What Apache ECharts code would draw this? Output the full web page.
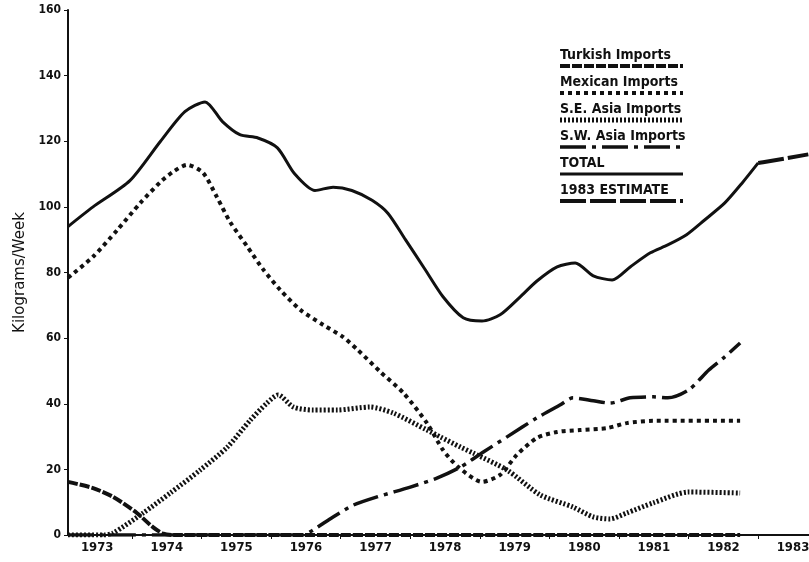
<!DOCTYPE html>
<html>
<head>
<meta charset="utf-8">
<script src="https://cdn.jsdelivr.net/npm/echarts@6/dist/echarts.min.js"></script>
<style>html,body{margin:0;padding:0;background:#fff}#c{width:809px;height:562px}</style>
</head>
<body>
<div id="c"></div>
<script>
// Year labels (centered mid-year) and tick positions (year boundaries)
const yearLabels = [1973,1974,1975,1976,1977,1978,1979,1980,1981,1982,1983];
const yTicks = [0,20,40,60,80,100,120,140,160];

// Series as [year, kilograms/week]
const turkish = [[1973.08,16.2],[1973.44,14.3],[1973.73,11.6],[1974.07,6.7],[1974.30,2.4],[1974.45,0.4],[1974.6,0],[1982.74,0]];
const mexican = [[1973.08,78.4],[1973.44,84.8],[1973.79,93],[1974.12,101.2],[1974.41,107.6],[1974.59,110.7],[1974.79,112.8],[1975.02,110.4],[1975.22,103],[1975.41,95.4],[1975.66,87.8],[1975.89,80.8],[1976.13,74.7],[1976.42,68.6],[1976.75,64],[1977.03,60.4],[1977.24,56.5],[1977.57,49.7],[1977.90,43.3],[1978.24,34.1],[1978.47,25.9],[1978.69,20.7],[1979.03,16.2],[1979.29,18.3],[1979.53,24.4],[1979.82,29.6],[1980.11,31.4],[1980.44,32],[1980.83,32.6],[1981.11,34.1],[1981.49,34.8],[1982.74,34.8]];
const seAsia = [[1973.08,0],[1973.60,0],[1973.73,0.6],[1974.16,6.7],[1974.55,12.8],[1974.98,19.8],[1975.37,26.8],[1975.70,35],[1975.94,40.2],[1976.10,42.7],[1976.32,39],[1976.60,38.1],[1976.95,38.1],[1977.42,39],[1977.75,37.2],[1978.24,32],[1978.43,29.9],[1978.72,26.8],[1978.90,25],[1979.39,19.8],[1979.87,12.2],[1980.34,8.5],[1980.63,5.5],[1980.87,4.9],[1981.11,6.7],[1981.49,9.8],[1982.0,13.1],[1982.74,12.8]];
const swAsia = [[1973.08,0],[1976.46,0],[1976.60,1.5],[1976.89,5.5],[1977.18,9.1],[1977.52,11.6],[1978.0,14.6],[1978.39,17.4],[1978.72,20.7],[1979.05,25.3],[1979.39,29.9],[1979.82,35.7],[1980.15,39.6],[1980.34,41.8],[1980.63,40.9],[1980.87,40.2],[1981.16,41.8],[1981.49,42.1],[1981.70,41.8],[1982.0,44.2],[1982.29,50.3],[1982.52,54.3],[1982.74,58.5]];
const total = [[1973.08,94],[1973.44,100],[1973.97,108],[1974.41,120],[1974.76,129],[1975.05,132],[1975.30,126],[1975.55,122],[1975.81,121],[1976.09,118],[1976.34,110],[1976.63,105],[1976.89,106],[1977.16,105],[1977.45,102],[1977.68,98],[1977.93,90],[1978.21,81],[1978.47,72.6],[1978.76,66.2],[1979.03,65.2],[1979.29,67.1],[1979.58,72.6],[1979.82,77.4],[1980.11,81.7],[1980.37,82.9],[1980.63,79],[1980.90,77.7],[1981.16,81.7],[1981.45,86],[1981.70,88.4],[1981.97,91.5],[1982.23,96],[1982.52,101.2],[1982.77,107.3],[1983.0,113.4]];
const estimate = [[1983.0,113.4],[1983.07,113.6],[1983.72,116]];

const legendItems = [
  {name:'Turkish Imports', w:4, dash:[10,2]},
  {name:'Mexican Imports', w:4, dash:[4,4]},
  {name:'S.E. Asia Imports', w:5, dash:[2,2]},
  {name:'S.W. Asia Imports', w:3.5, dash:[26,6,4,6]},
  {name:'TOTAL', w:3, dash:null},
  {name:'1983 ESTIMATE', w:4, dash:[26,4]}
];

const chart = echarts.init(document.getElementById('c'), null, {renderer:'canvas'});
const INK = '#111';
const labelFont = 'DejaVu Sans Condensed';

function line(name, data, w, dash){
  return {name, type:'line', data, showSymbol:false, smooth:0.25, z:3,
    lineStyle:{color:INK, width:w, type: dash || 'solid', cap:'butt', join:'round'}, emphasis:{disabled:true}};
}

const graphic = [];
const lx = 560, ly0 = 56, dy = 27;
legendItems.forEach((it,i)=>{
  const y = ly0 + i*dy;
  graphic.push({type:'text', left:lx, top:y-8, style:{text:it.name, font:'bold 14px "'+labelFont+'"', fill:INK}});
  graphic.push({type:'line', shape:{x1:lx, y1:y+10, x2:683, y2:y+10},
    style:{stroke:INK, lineWidth:it.w, lineDash:it.dash||null}});
});

chart.setOption({
  backgroundColor:'#fff',
  animation:false,
  grid:{left:68, right:0, top:10, bottom:27, containLabel:false, outerBoundsMode:'none'},
  xAxis:[{
    type:'value', min:1973.08, max:1983.73,
    axisLine:{show:true, onZero:false, lineStyle:{color:INK, width:2}},
    axisTick:{show:true, customValues:[1974,1975,1976,1977,1978,1979,1980,1981,1982,1983], length:4, lineStyle:{color:INK, width:1}},
    axisLabel:{customValues: yearLabels.map(y=>y+0.5), formatter:v=>String(Math.floor(v)),
      color:INK, fontSize:13, fontWeight:'bold', fontFamily:labelFont, margin:6},
    splitLine:{show:false}
  },{
    type:'value', position:'top', min:1973.08, max:1983.73,
    axisLine:{show:true, lineStyle:{color:INK, width:2}},
    axisTick:{show:false}, axisLabel:{show:false}, splitLine:{show:false}
  }],
  yAxis:{
    type:'value', min:0, max:160, interval:20,
    name:'Kilograms/Week', nameLocation:'middle', nameGap:38, nameRotate:90,
    nameTextStyle:{color:INK, fontSize:15, fontFamily:'DejaVu Sans'},
    axisLine:{show:true, lineStyle:{color:INK, width:2}},
    axisTick:{show:true, length:4, lineStyle:{color:INK}},
    axisLabel:{color:INK, fontSize:12, fontWeight:'bold', fontFamily:labelFont, margin:7,
      customValues: yTicks},
    splitLine:{show:false}
  },
  series:[
    line('Turkish Imports', turkish, 4, [10,2]),
    line('Mexican Imports', mexican, 4, [4,4]),
    line('S.E. Asia Imports', seAsia, 5, [2,2]),
    line('S.W. Asia Imports', swAsia, 3.5, [26,6,4,6]),
    line('TOTAL', total, 3, null),
    line('1983 ESTIMATE', estimate, 4, [26,4])
  ],
  graphic
});
</script>
</body>
</html>
